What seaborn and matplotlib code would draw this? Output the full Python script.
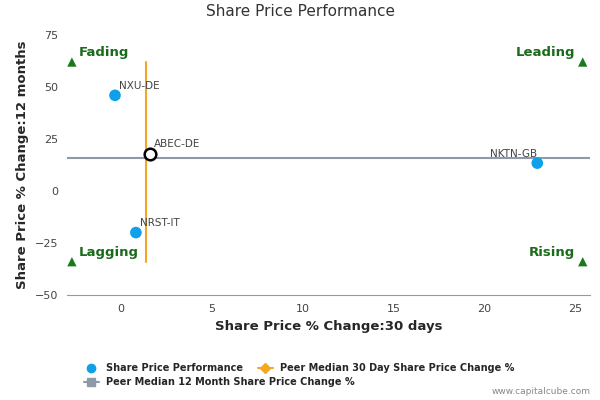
import matplotlib
matplotlib.use("Agg")
import matplotlib.pyplot as plt
import seaborn as sns
import pandas as pd
from matplotlib.lines import Line2D

names = ["NXU-DE", "NRST-IT", "NKTN-GB"]
x_30d = [-0.33, 0.82, 22.9]
y_12m = [46.0, -20.0, 13.4]
focus_name = "ABEC-DE"
focus_x, focus_y = 1.6, 18.0
median_30d = 1.37
median_12m = 16.0
quad_labels = ["Fading", "Leading", "Lagging", "Rising"]
quad_x = [-2.7, 25.4, -2.7, 25.4]
quad_y = [62, 62, -34, -34]

sns.set_style("white")
plt.rcParams["font.family"] = ["DejaVu Sans"]

fig = plt.figure(figsize=(6, 4), dpi=100)
ax = fig.add_axes([67 / 600, 1 - 295 / 400, 523 / 600, 260 / 400])

df = pd.DataFrame({"x": x_30d, "y": y_12m, "name": names})
ax.plot([median_30d, median_30d], [quad_y[2], quad_y[0]], color="#f5a623", lw=1.5, zorder=2)
ax.plot([-2.97, 25.8], [median_12m, median_12m], color="#8f9aa8", lw=1.5, zorder=2)
sns.scatterplot(data=df, x="x", y="y", color="#0ea0e8", s=70, edgecolor="none", ax=ax, zorder=3)
ax.scatter([focus_x], [focus_y], s=70, facecolor="white", edgecolor="black", lw=1.8, zorder=4)
for n, xx, yy in zip(names + [focus_name], x_30d + [focus_x], y_12m + [focus_y]):
    ha = "right" if xx > 20 else "left"
    dx = 0.0 if ha == "right" else 0.2
    ax.text(xx + dx, yy + 2, n, fontsize=7.5, color="#444444", ha=ha, va="bottom")

sns.scatterplot(x=quad_x, y=quad_y, marker="^", color="#1a7a1a", s=45, edgecolor="none", ax=ax, zorder=3)
for lab, xx, yy in zip(quad_labels, quad_x, quad_y):
    ha = "left" if xx < 0 else "right"
    off = 0.4 if xx < 0 else -0.4
    ax.text(xx + off, yy + 1.5, lab, fontsize=9.5, fontweight="bold", color="#1a6b1a", ha=ha, va="bottom")

ax.set_xlim(-2.97, 25.8)
ax.set_ylim(-50, 75)
ax.set_xticks([0, 5, 10, 15, 20, 25])
ax.set_yticks([-50, -25, 0, 25, 50, 75])
ax.tick_params(labelsize=8, colors="#444444", length=3)
for s in ["top", "right", "left"]:
    ax.spines[s].set_visible(False)
ax.spines["bottom"].set_color("#999999")
ax.set_xlabel("Share Price % Change:30 days", fontsize=9.5, fontweight="bold")
ax.set_ylabel("Share Price % Change:12 months", fontsize=9.5, fontweight="bold")
fig.text(0.5, 0.96, "Share Price Performance", ha="center", fontsize=11, color="#333333")

h_spp = Line2D([], [], marker="o", color="none", markerfacecolor="#0ea0e8", markeredgecolor="none", markersize=7)
h_12m = Line2D([], [], marker="s", color="#8f9aa8", markersize=6, lw=1.5)
h_30d = Line2D([], [], marker="D", color="#f5a623", markersize=5, lw=1.5)
leg_kw = dict(frameon=False, prop={"size": 7, "weight": "bold"}, handlelength=1.5,
              borderaxespad=0, borderpad=0)
leg1 = fig.legend([h_spp], ["Share Price Performance"], loc="center left",
                  bbox_to_anchor=(0.14, 0.08), **leg_kw)
leg2 = fig.legend([h_30d], ["Peer Median 30 Day Share Price Change %"], loc="center left",
                  bbox_to_anchor=(0.43, 0.08), **leg_kw)
leg3 = fig.legend([h_12m], ["Peer Median 12 Month Share Price Change %"], loc="center left",
                  bbox_to_anchor=(0.14, 0.045), **leg_kw)
fig.text(0.985, 0.015, "www.capitalcube.com", ha="right", fontsize=6.5, color="#888888")

fig.savefig("out.png", dpi=100)
